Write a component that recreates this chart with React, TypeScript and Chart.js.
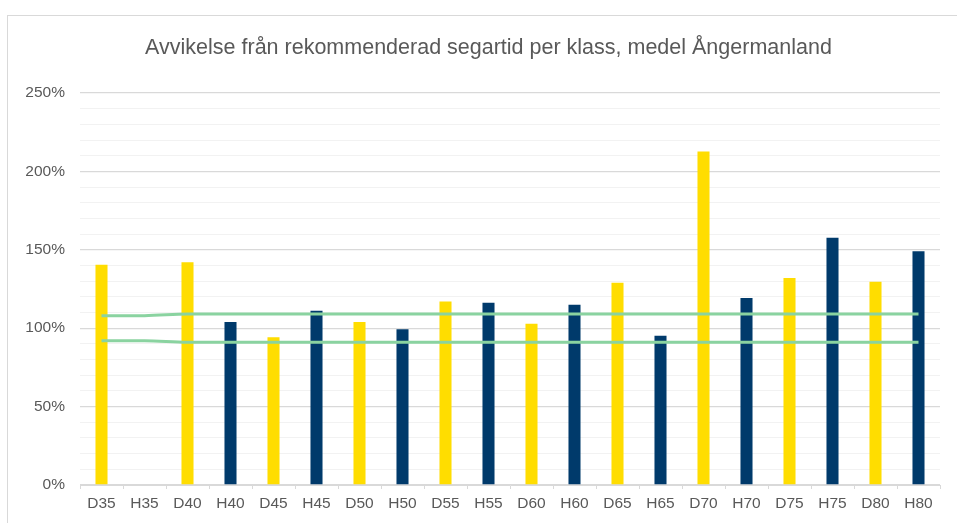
import React, { useEffect, useRef } from "react";
import { Chart, registerables } from "chart.js";

Chart.register(...registerables);

const categories = ["D35","H35","D40","H40","D45","H45","D50","H50","D55","H55","D60","H60","D65","H65","D70","H70","D75","H75","D80","H80"];
const deviation: (number | null)[] = [140.5, null, 142, 104, 94.2, 111.1, 104, 99.3, 117, 116.3, 102.8, 115, 129, 95.2, 212.7, 119.2, 132, 157.7, 129.6, 149];
const upperLimit = [108, 108, 109, 109, 109, 109, 109, 109, 109, 109, 109, 109, 109, 109, 109, 109, 109, 109, 109, 109];
const lowerLimit = [92, 92, 91, 91, 91, 91, 91, 91, 91, 91, 91, 91, 91, 91, 91, 91, 91, 91, 91, 91];
const yTickStep = 10;
const yMax = 250;

const TITLE = "Avvikelse från rekommenderad segartid per klass, medel Ångermanland";
const YELLOW = "#FFDD00";
const NAVY = "#003A6B";
const GREEN = "#8AD3A0";
const TEXT = "#595959";
const FONT = "'Liberation Sans', Arial, sans-serif";

export default function App() {
  const ref = useRef<HTMLCanvasElement | null>(null);

  useEffect(() => {
    if (!ref.current) return;
    const barColors = categories.map((c) => (c.startsWith("D") ? YELLOW : NAVY));
    const chart = new Chart(ref.current, {
      type: "bar",
      data: {
        labels: categories,
        datasets: [
          {
            type: "line",
            label: "Övre",
            data: upperLimit,
            borderColor: GREEN,
            borderWidth: 3,
            pointRadius: 0,
            cubicInterpolationMode: "monotone",
            fill: false,
            order: 0,
          } as any,
          {
            type: "line",
            label: "Undre",
            data: lowerLimit,
            borderColor: GREEN,
            borderWidth: 3,
            pointRadius: 0,
            cubicInterpolationMode: "monotone",
            fill: false,
            order: 0,
          } as any,
          {
            type: "bar",
            label: "Avvikelse",
            data: deviation,
            backgroundColor: barColors,
            categoryPercentage: 1,
            barPercentage: 0.28,
            order: 1,
          } as any,
        ],
      },
      options: {
        responsive: false,
        animation: false,
        layout: { padding: 0 },
        plugins: {
          legend: { display: false },
          tooltip: { enabled: false },
          title: {
            display: true,
            text: TITLE,
            color: TEXT,
            font: { family: FONT, size: 21.5, weight: "normal" as any, lineHeight: 1.2 },
            padding: { top: 19, bottom: 32.2 },
          },
        },
        scales: {
          x: {
            grid: {
              offset: true,
              drawOnChartArea: false,
              drawTicks: true,
              tickLength: 4,
              color: "#d9d9d9",
            },
            border: { display: true, color: "#d9d9d9", width: 1 },
            ticks: {
              color: TEXT,
              font: { family: FONT, size: 15.5 },
              padding: 5,
              maxRotation: 0,
              autoSkip: false,
            },
            afterFit: (s: any) => {
              s.height = 38;
            },
          },
          y: {
            min: 0,
            max: yMax,
            border: { display: false },
            grid: {
              drawTicks: false,
              color: (ctx: any) => (ctx.tick && ctx.tick.value % 50 === 0 ? "#d9d9d9" : "#f2f2f2"),
              lineWidth: (ctx: any) => (ctx.tick && ctx.tick.value % 50 === 0 ? 1.3 : 1),
            },
            ticks: {
              stepSize: yTickStep,
              autoSkip: false,
              color: TEXT,
              padding: 15,
              font: { family: FONT, size: 15.5 },
              callback: (v: any) => (Number(v) % 50 === 0 ? v + "%" : ""),
            },
            afterFit: (s: any) => {
              s.width = 72;
            },
          },
          yRightSpace: {
            position: "right",
            display: true,
            min: 0,
            max: yMax,
            grid: { display: false, drawTicks: false },
            border: { display: false },
            ticks: { display: false },
            afterFit: (s: any) => {
              s.width = 29;
            },
          } as any,
        },
      },
    });
    return () => chart.destroy();
  }, []);

  return (
    <div style={{ position: "fixed", left: 0, top: 0, width: 957, height: 523, overflow: "hidden", background: "#fff" }}>
      <div
        style={{
          position: "absolute",
          left: 7,
          top: 15,
          width: 990,
          height: 600,
          border: "1px solid #d9d9d9",
          boxSizing: "border-box",
        }}
      />
      <canvas
        ref={ref}
        width={961}
        height={507}
        style={{ position: "absolute", left: 8, top: 16, width: 961, height: 507 }}
      />
    </div>
  );
}
